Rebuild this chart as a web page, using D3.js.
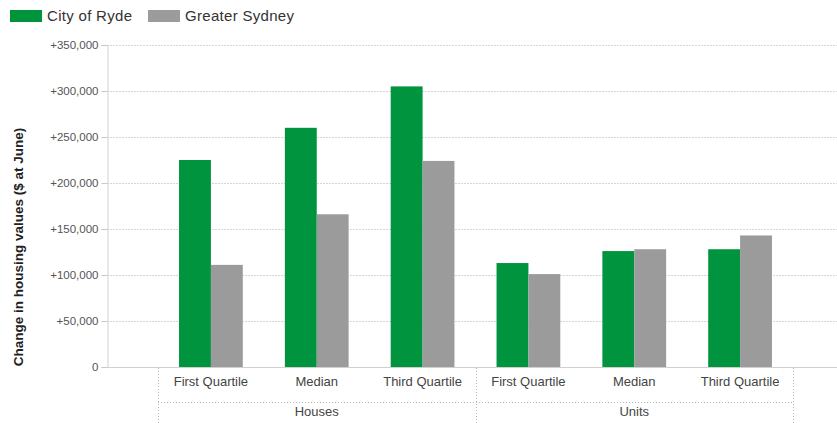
<!DOCTYPE html>
<html>
<head>
<meta charset="utf-8">
<script src="https://cdn.jsdelivr.net/npm/d3@7"></script>
<style>
  body { margin: 0; background: #fff; }
  text { font-family: "Liberation Sans", Arial, sans-serif; }
</style>
</head>
<body>
<div id="chart"></div>
<script>
// data
var groups = ["Houses", "Units"];
var measures = ["First Quartile", "Median", "Third Quartile"];
var seriesNames = ["City of Ryde", "Greater Sydney"];
var seriesColors = ["#00943f", "#9b9b9b"];
var rydeValues = [225000, 260000, 305000, 113000, 126000, 128000];
var sydneyValues = [111000, 166000, 224000, 101000, 128000, 143000];
var yTicks = [0, 50000, 100000, 150000, 200000, 250000, 300000, 350000];

var width = 837, height = 423;
var svg = d3.select('#chart').append('svg')
  .attr('width', width)
  .attr('height', height);

// categories = group x measure
var cats = [];
groups.forEach(function(g) {
  measures.forEach(function(m) { cats.push({ group: g, measure: m, key: g + '|' + m }); });
});

var plotLeft = 107, plotRight = 837, plotTop = 45, plotBottom = 367;

var x = d3.scaleBand()
  .domain(cats.map(function(d) { return d.key; }))
  .range([158, 793])
  .paddingInner(0)
  .paddingOuter(0);

var xSeries = d3.scaleBand()
  .domain(seriesNames)
  .range([0, x.bandwidth()])
  .paddingInner(0)
  .paddingOuter(0.66);

var y = d3.scaleLinear()
  .domain([0, 350000])
  .range([plotBottom, plotTop]);

var fmt = function(v) { return v === 0 ? '0' : '+' + d3.format(',')(v); };

// gridlines
svg.append('g')
  .selectAll('line')
  .data(yTicks.filter(function(d) { return d > 0; }))
  .enter().append('line')
    .attr('x1', plotLeft).attr('x2', plotRight)
    .attr('y1', function(d) { return y(d) + 0.5; })
    .attr('y2', function(d) { return y(d) + 0.5; })
    .attr('stroke', '#d6d6d6')
    .attr('stroke-dasharray', '2,1');

// y axis
var yAxis = d3.axisLeft(y).tickValues(yTicks).tickFormat(fmt).tickSize(6).tickPadding(3);
var yg = svg.append('g')
  .attr('transform', 'translate(' + (plotLeft + 0.5) + ',0)')
  .call(yAxis);
yg.select('.domain').attr('stroke', '#d0d0d0');
yg.selectAll('.tick line').attr('stroke', '#c8c8c8');
yg.selectAll('.tick text').attr('fill', '#555').style('font-size', '11.5px');

// x baseline
svg.append('line')
  .attr('x1', plotLeft).attr('x2', plotRight)
  .attr('y1', plotBottom + 0.5).attr('y2', plotBottom + 0.5)
  .attr('stroke', '#d0d0d0');

// bars
var barData = [];
cats.forEach(function(c, i) {
  barData.push({ key: c.key, series: seriesNames[0], value: rydeValues[i], color: seriesColors[0] });
  barData.push({ key: c.key, series: seriesNames[1], value: sydneyValues[i], color: seriesColors[1] });
});

svg.append('g')
  .selectAll('rect')
  .data(barData)
  .enter().append('rect')
    .attr('x', function(d) { return x(d.key) + xSeries(d.series); })
    .attr('width', xSeries.bandwidth())
    .attr('y', function(d) { return y(d.value); })
    .attr('height', function(d) { return y(0) - y(d.value); })
    .attr('fill', function(d) { return d.color; });

// category labels
svg.append('g')
  .selectAll('text')
  .data(cats)
  .enter().append('text')
    .attr('x', function(d) { return x(d.key) + x.bandwidth() / 2; })
    .attr('y', 386)
    .attr('text-anchor', 'middle')
    .attr('fill', '#444')
    .style('font-size', '13px')
    .text(function(d) { return d.measure; });

// group separators and labels
var dotted = '#b8b8b8';
var groupEdges = [x(cats[0].key), x(cats[3].key), x(cats[5].key) + x.bandwidth()];
svg.append('g')
  .selectAll('line')
  .data(groupEdges)
  .enter().append('line')
    .attr('x1', function(d) { return Math.round(d) + 0.5; })
    .attr('x2', function(d) { return Math.round(d) + 0.5; })
    .attr('y1', plotBottom + 1).attr('y2', height)
    .attr('stroke', dotted)
    .attr('stroke-dasharray', '1,2');

svg.append('line')
  .attr('x1', groupEdges[0]).attr('x2', groupEdges[2])
  .attr('y1', 402.5).attr('y2', 402.5)
  .attr('stroke', dotted)
  .attr('stroke-dasharray', '1,2');

svg.append('g')
  .selectAll('text')
  .data(groups)
  .enter().append('text')
    .attr('x', function(d, i) { return (groupEdges[i] + groupEdges[i + 1]) / 2; })
    .attr('y', 416)
    .attr('text-anchor', 'middle')
    .attr('fill', '#444')
    .style('font-size', '13px')
    .text(function(d) { return d; });

// y axis title
svg.append('text')
  .attr('transform', 'translate(23,247) rotate(-90)')
  .attr('text-anchor', 'middle')
  .attr('fill', '#222')
  .style('font-size', '13.5px')
  .style('font-weight', 'bold')
  .text('Change in housing values ($ at June)');

// legend
var legendX = [10, 148];
var legend = svg.append('g')
  .selectAll('g')
  .data(seriesNames)
  .enter().append('g')
    .attr('transform', function(d, i) { return 'translate(' + legendX[i] + ',10)'; });
legend.append('rect')
  .attr('width', 32).attr('height', 12)
  .attr('fill', function(d, i) { return seriesColors[i]; });
legend.append('text')
  .attr('x', 37).attr('y', 11)
  .attr('fill', '#333')
  .style('font-size', '15px')
  .style('letter-spacing', '0.3px')
  .text(function(d) { return d; });
</script>
</body>
</html>
